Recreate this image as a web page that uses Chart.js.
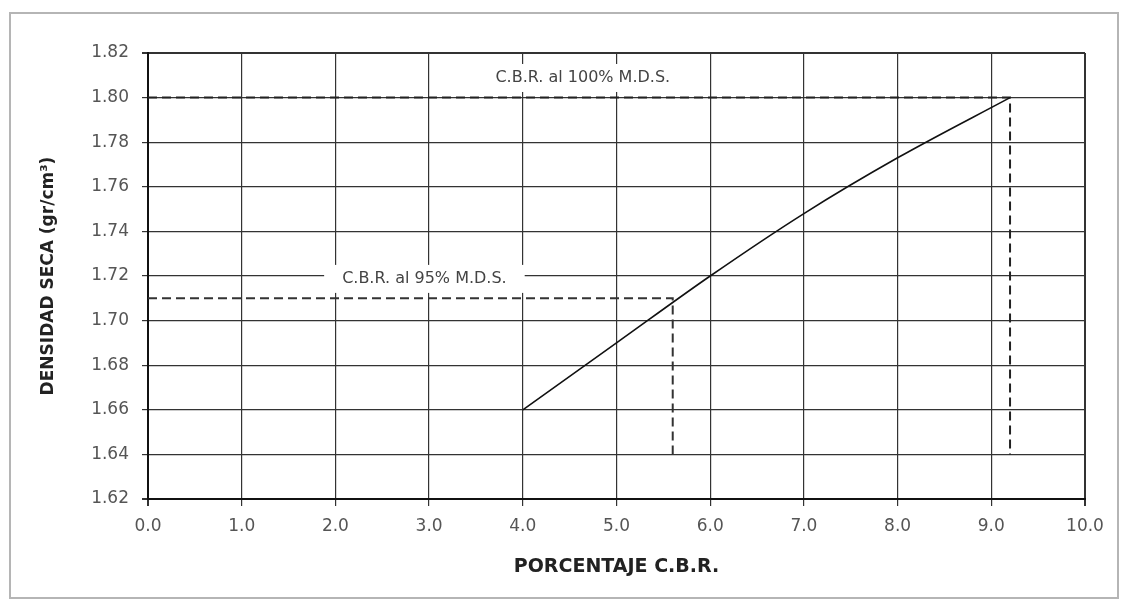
<!DOCTYPE html>
<html>
<head>
<meta charset="utf-8">
<script src="https://cdn.jsdelivr.net/npm/chart.js@4"></script>
<style>
  html, body { margin: 0; padding: 0; background: #fff; }
  #wrap { width: 1121px; height: 600px; position: relative; }
</style>
</head>
<body>
<div id="wrap"><canvas id="cbr"></canvas></div>
<script>
// curve
const cbrValues = [4.0, 5.0, 6.0, 7.0, 8.0, 9.2];
const densityValues = [1.66, 1.69, 1.72, 1.748, 1.773, 1.80];

// dashed guides (100% and 95% M.D.S.)
const guide100X = [0, 9.2, 9.2];
const guide100Y = [1.80, 1.80, 1.64];
const guide95X = [0, 5.6, 5.6];
const guide95Y = [1.71, 1.71, 1.64];

const labelTexts = ["C.B.R. al 100% M.D.S.", "C.B.R. al 95% M.D.S."];
const labelX = [4.64, 2.95];
const labelY = [1.8088, 1.7187];

const yMin = 1.62, yMax = 1.82, yStep = 0.02;
const xMin = 0, xMax = 10, xStep = 1;

const toPoints = (xs, ys) => xs.map((x, i) => ({ x, y: ys[i] }));

const gridColor = "#333";
const tickFont = { family: "DejaVu Sans", size: 17 };

// outer frame of the figure
const framePlugin = {
  id: "frame",
  beforeDraw(chart) {
    const ctx = chart.ctx;
    ctx.save();
    ctx.fillStyle = "#fff";
    ctx.fillRect(0, 0, chart.width, chart.height);
    ctx.strokeStyle = "#b5b5b5";
    ctx.lineWidth = 2;
    ctx.strokeRect(10, 13, 1108, 585);
    ctx.restore();
  },
};

// text labels with white box over the grid
const labelPlugin = {
  id: "guideLabels",
  beforeDatasetsDraw(chart) {
    const ctx = chart.ctx;
    const xs = chart.scales.x, ys = chart.scales.y;
    ctx.save();
    ctx.font = "16px 'DejaVu Sans'";
    ctx.textAlign = "center";
    ctx.textBaseline = "middle";
    labelTexts.forEach((t, i) => {
      const px = xs.getPixelForValue(labelX[i]);
      const py = ys.getPixelForValue(labelY[i]);
      const w = ctx.measureText(t).width;
      ctx.fillStyle = "#fff";
      ctx.fillRect(px - w / 2 - 18, py - 14, w + 36, 28);
      ctx.fillStyle = "#444";
      ctx.fillText(t, px, py);
    });
    ctx.restore();
  },
};

const edgeWidth = (c) =>
  c.index === 0 || c.index === c.scale.ticks.length - 1 ? 2 : 1.2;

new Chart(document.getElementById("cbr"), {
  type: "scatter",
  data: {
    datasets: [
      {
        data: toPoints(cbrValues, densityValues),
        showLine: true,
        borderColor: "#111",
        borderWidth: 1.6,
        pointRadius: 0,
        cubicInterpolationMode: "monotone",
      },
      {
        data: toPoints(guide100X, guide100Y),
        showLine: true,
        borderColor: "#222",
        borderWidth: 2,
        borderDash: [9, 5],
        pointRadius: 0,
      },
      {
        data: toPoints(guide95X, guide95Y),
        showLine: true,
        borderColor: "#333",
        borderWidth: 2,
        borderDash: [9, 5],
        pointRadius: 0,
      },
    ],
  },
  options: {
    responsive: true,
    maintainAspectRatio: false,
    animation: false,
    layout: { padding: { left: 10, top: 53, right: 36, bottom: 10 } },
    plugins: { legend: { display: false }, tooltip: { enabled: false } },
    scales: {
      x: {
        type: "linear",
        min: xMin,
        max: xMax,
        afterFit: (s) => { s.height = 91; },
        ticks: {
          stepSize: xStep,
          color: "#555",
          font: tickFont,
          padding: 10,
          maxRotation: 0,
          callback: (v) => v.toFixed(1),
        },
        grid: { color: gridColor, lineWidth: edgeWidth, tickLength: 7 },
        border: { color: "#111", width: 2 },
        title: {
          display: true,
          text: "PORCENTAJE C.B.R.",
          color: "#222",
          font: { family: "DejaVu Sans", size: 19, weight: "bold" },
          padding: 12,
        },
      },
      y: {
        type: "linear",
        min: yMin,
        max: yMax,
        afterFit: (s) => { s.width = 138; },
        ticks: {
          stepSize: yStep,
          color: "#555",
          font: tickFont,
          padding: 13,
          callback: (v) => v.toFixed(2),
        },
        grid: { color: gridColor, lineWidth: edgeWidth, tickLength: 6 },
        border: { color: "#111", width: 2 },
        title: {
          display: true,
          text: "DENSIDAD SECA (gr/cm³)",
          color: "#222",
          font: { family: "DejaVu Sans", size: 17, weight: "bold" },
          padding: 28,
        },
      },
    },
  },
  plugins: [framePlugin, labelPlugin],
});
</script>
</body>
</html>
